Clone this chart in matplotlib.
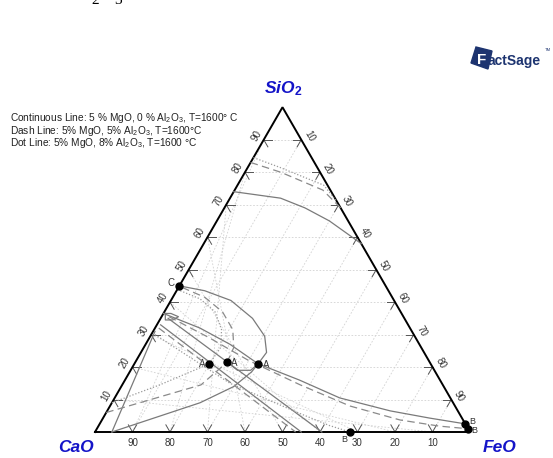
import numpy as np
import matplotlib
matplotlib.use("Agg")
import matplotlib.pyplot as plt
from matplotlib.patches import Polygon

plt.rcParams['font.family'] = ['Liberation Sans', 'DejaVu Sans']
plt.rcParams['mathtext.fontset'] = 'custom'
plt.rcParams['mathtext.rm'] = 'Liberation Sans'
plt.rcParams['mathtext.it'] = 'Liberation Sans:italic'
plt.rcParams['mathtext.bf'] = 'Liberation Sans:bold'

# corner names and ticks (percent)
corners = ['CaO', r'SiO$_\mathbf{2}$', 'FeO']
tick_vals = [10, 20, 30, 40, 50, 60, 70, 80, 90]

legend_lines = [
    "Continuous Line: 5 % MgO, 0 % Al$_2$O$_3$, T=1600\u00b0 C",
    "Dash Line: 5% MgO, 5% Al$_2$O$_3$, T=1600\u00b0C",
    "Dot Line: 5% MgO, 8% Al$_2$O$_3$, T=1600 \u00b0C",
]

# curves as (SiO2 %, FeO %)
solid_top = [(74, 0), (72, 13.5), (69, 21.5), (65, 30), (58, 42)]
solid_loop = [(45, 0), (43.5, 7.5), (40.5, 16), (35, 24.5), (29.5, 30.5), (24.5, 33.5), (21, 33)]
solid_tail = [(21.5, 24.5), (19, 28.5), (19, 32), (21, 33)]
solid_long = [(36.5, 0), (32, 12), (27, 22.5), (21, 33), (16, 46.5), (10.5, 60),
              (6.5, 75.5), (4.3, 87), (2.5, 97.5)]
solid_small = [(36.5, 0.5), (36.5, 2), (35.5, 4.5), (34.5, 3.5), (34.5, 1.5), (36.5, 0.5)]
solid_lime = [(0, 4.5), (9, 23.5), (14, 30), (18.5, 32.5), (21, 33)]
solid_steep = [(0, 4.5), (31, 0.5)]
solid_band1 = [(33, 1), (0, 55)]
solid_band2 = [(35, 2), (0, 60.5)]

dash_top = [(83, 0), (80, 9.5), (74.5, 23.5), (69, 31)]
dash_arc = [(44.5, 1), (41.5, 8.5), (37, 15.5), (31.5, 21), (26, 24), (21.5, 24.5)]
dash_long = [(35.5, 2), (29, 16), (22, 30), (14.5, 47.5), (8, 64), (3.7, 79.5),
             (1.8, 91), (1, 99)]
dash_lime = [(6, 0), (14.5, 21), (21.5, 24.5)]
dash_band = [(32, 1), (0, 53.5)]

dot_top = [(84.5, 0), (81.5, 8.5), (76, 23), (71, 29)]
dot_arc = [(43.5, 1), (41, 7.5), (37, 13.5), (31.5, 18), (26, 20.5), (21, 20)]
dot_lime = [(9, 0), (14.5, 10), (21, 20)]
dot_band = [(30, 1), (15, 28.5), (6, 51), (2, 61.5), (0, 68)]

# invariant points
pts_A = [(21, 20), (21.5, 24.5), (21, 33)]
pts_B = [(0, 68), (2.5, 97.5), (1, 99)]
pts_C = [(45, 0)]

# triangle geometry (pixels)
X0, Y0, W = 95.0, 432.0, 375.0
H = W * np.sqrt(3) / 2


def tern(sio2, feo):
    s = np.asarray(sio2, dtype=float) / 100
    f = np.asarray(feo, dtype=float) / 100
    return X0 + (f + s / 2) * W, Y0 - s * H


def draw(curve, **kw):
    c = np.array(curve)
    x, y = tern(c[:, 0], c[:, 1])
    ax.plot(x, y, **kw)


fig = plt.figure(figsize=(5.53, 4.58), dpi=100)
ax = fig.add_axes([0, 0, 1, 1])
ax.set_xlim(0, 553)
ax.set_ylim(458, 0)
ax.axis('off')

# grid
for v in tick_vals:
    g = dict(color='#d2d2d2', lw=0.6, ls=(0, (2, 2)), zorder=1)
    x, y = tern([v, v], [0, 100 - v])          # constant SiO2
    ax.plot(x, y, **g)
    x, y = tern([0, 100 - v], [v, v])          # constant FeO
    ax.plot(x, y, **g)
    x, y = tern([0, v], [100 - v, 0])          # constant CaO
    ax.plot(x, y, **g)

# small tick marks at the edges
tk = 2.2
for v in tick_vals:
    t = dict(color='#555555', lw=0.7, zorder=3)
    # bottom edge (CaO)
    x, y = tern([0, tk], [100 - v, 100 - v]); ax.plot(x, y, **t)
    x, y = tern([0, tk], [100 - v, 100 - v - tk]); ax.plot(x, y, **t)
    # left edge (SiO2)
    x, y = tern([v, v], [0, tk]); ax.plot(x, y, **t)
    x, y = tern([v, v - tk], [0, tk]); ax.plot(x, y, **t)
    # right edge (FeO)
    x, y = tern([100 - v, 100 - v - tk], [v, v]); ax.plot(x, y, **t)
    x, y = tern([100 - v, 100 - v], [v, v - tk]); ax.plot(x, y, **t)

# triangle
x, y = tern([0, 100, 0, 0], [0, 0, 100, 0])
ax.plot(x, y, color='black', lw=1.4, zorder=4, solid_joinstyle='miter')

# tick labels
lab = dict(fontsize=7, color='#333333', ha='center', va='center')
for v in tick_vals:
    x, y = tern(0, 100 - v)
    ax.text(x, y + 11, str(v), **lab)
    x, y = tern(v, 0)
    ax.text(x - 7.5, y - 4, str(v), rotation=60, rotation_mode='anchor', **lab)
    x, y = tern(100 - v, v)
    ax.text(x + 8, y - 3.5, str(v), rotation=-60, rotation_mode='anchor', **lab)

# corner names
cn = dict(fontsize=12.5, color='#1414c8', fontweight='bold', style='italic',
          ha='center', va='center')
ax.text(76, 448, corners[0], **cn)
ax.text(283, 89, corners[1], **cn)
ax.text(500, 448, corners[2], **cn)

# phase boundaries
sk = dict(color='#7a7a7a', lw=0.9, zorder=5)
dk = dict(color='#8a8a8a', lw=0.9, ls=(0, (6, 3.5)), zorder=5)
ok = dict(color='#9a9a9a', lw=0.9, ls=(0, (1, 1.5)), zorder=5)
for c in [solid_top, solid_loop, solid_tail, solid_long, solid_small,
          solid_lime, solid_steep, solid_band1, solid_band2]:
    draw(c, **sk)
for c in [dash_top, dash_arc, dash_long, dash_lime, dash_band]:
    draw(c, **dk)
for c in [dot_top, dot_arc, dot_lime, dot_band]:
    draw(c, **ok)

# invariant points
allpts = np.array(pts_A + pts_B + pts_C)
x, y = tern(allpts[:, 0], allpts[:, 1])
ax.plot(x, y, 'o', color='black', ms=5, zorder=6)

pl = dict(fontsize=7, color='#333333', va='center')
offs_A = [(-4, 0, 'right'), (4, 1, 'left'), (5, 1, 'left')]
for (s, f), (dx, dy, ha) in zip(pts_A, offs_A):
    x, y = tern(s, f)
    ax.text(x + dx, y + dy, 'A', ha=ha, **pl)
offs_B = [(-3, 8, 'right'), (4, -2, 'left'), (3, 2, 'left')]
for (s, f), (dx, dy, ha) in zip(pts_B, offs_B):
    x, y = tern(s, f)
    ax.text(x + dx, y + dy, 'B', ha=ha, fontsize=6.5, color='#333333', va='center')
x, y = tern(*pts_C[0])
ax.text(x - 5, y - 3, 'C', ha='right', **pl)

# legend text
for i, t in enumerate(legend_lines):
    ax.text(10, 118 + i * 12.7, t, fontsize=7.3, color='#222222', va='center')

# cropped text at the very top
ax.text(95, 1, '2', family='Liberation Serif', fontsize=11, va='center', ha='center')
ax.text(118, 1, '3', family='Liberation Serif', fontsize=11, va='center', ha='center')

# FactSage logo
ax.add_patch(Polygon([(476, 47), (492, 51), (488, 69), (471, 63)], closed=True,
                     color='#1d3470', zorder=6))
ax.text(482, 60, 'F', color='white', fontsize=11, fontweight='bold', ha='center',
        va='center', zorder=7)
ax.text(488, 61, 'actSage', color='#1d3470', fontsize=10, fontweight='bold',
        ha='left', va='center', zorder=7)
ax.text(545, 50, 'TM', color='#1d3470', fontsize=3, ha='left', va='center')

fig.savefig('out.png', dpi=100)
